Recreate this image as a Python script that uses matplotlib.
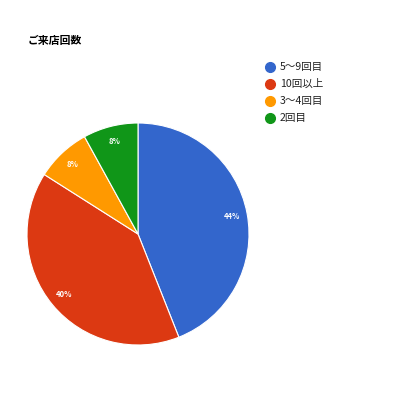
import matplotlib
matplotlib.use('Agg')
import matplotlib.pyplot as plt
from matplotlib.lines import Line2D

plt.rcParams['font.family'] = ['Noto Sans CJK JP', 'DejaVu Sans']

title = 'ご来店回数'
labels = ['5〜9回目', '10回以上', '3〜4回目', '2回目']
counts = [11, 10, 2, 2]
colors = ['#3366cc', '#dc3912', '#ff9900', '#109618']

fig = plt.figure(figsize=(4, 4), dpi=100)
fig.patch.set_facecolor('white')

# pie centre at (138, 234) px, radius ~111 px
cx, cy, r = 138 / 400, 1 - 234 / 400, 111 / 400
ax = fig.add_axes([cx - r, cy - r, 2 * r, 2 * r])
wedges, texts, autotexts = ax.pie(
    counts, colors=colors, startangle=90, counterclock=False,
    autopct='%1.0f%%', pctdistance=0.86, radius=1.0,
    wedgeprops=dict(edgecolor='white', linewidth=0.8),
    textprops=dict(color='white', fontsize=5.5, fontweight='bold'))
ax.set_xlim(-1, 1)
ax.set_ylim(-1, 1)
ax.set_aspect('equal')
ax.axis('off')

fig.text(28 / 400, 1 - 41 / 400, title, fontsize=7.8, fontweight='bold',
         ha='left', va='center', color='#000000')

# legend
for i, (lab, col) in enumerate(zip(labels, colors)):
    y = 1 - (67 + i * 17) / 400
    fig.lines.append(Line2D([270 / 400], [y], marker='o', markersize=7,
                            color=col, transform=fig.transFigure, linestyle=''))
    fig.text(280 / 400, y, lab, fontsize=7.6, color='#222222',
             ha='left', va='center')

fig.savefig('out.png', dpi=100, facecolor='white')
